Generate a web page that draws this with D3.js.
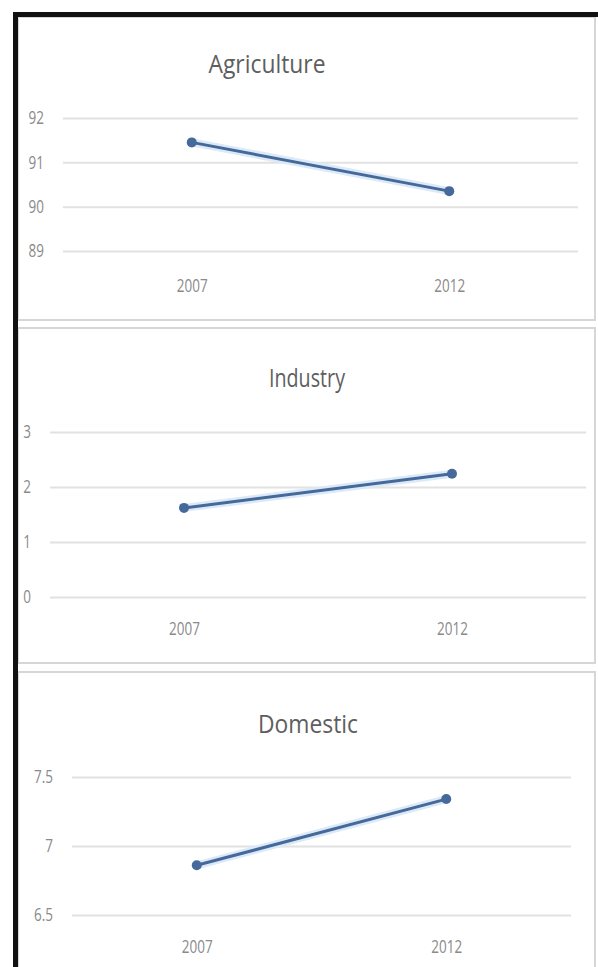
<!DOCTYPE html>
<html>
<head>
<meta charset="utf-8">
<script src="https://cdn.jsdelivr.net/npm/d3@7"></script>
<style>
  html, body { margin: 0; padding: 0; background: #fff; }
  svg { display: block; }
  .grid line { stroke: #e2e2e2; stroke-width: 2; }
  .grid text, .xaxis text { fill: #8a8a8a; font-family: "Open Sans", sans-serif; font-size: 18px; }
  .title { fill: #5e5e5e; font-family: "Open Sans", sans-serif; font-size: 25px; }
</style>
</head>
<body>
<svg id="chart" width="598" height="967"></svg>
<script>
// chart data
const years = ["2007", "2012"];
const titles = ["Agriculture", "Industry", "Domestic"];
const agriculture = [91.45, 90.35];
const industry = [1.62, 2.24];
const domestic = [6.86, 7.34];
const agricultureTicks = [89, 90, 91, 92];
const industryTicks = [0, 1, 2, 3];
const domesticTicks = [6.5, 7, 7.5];

// where each little chart sits on the page
const panels = [
  { values: agriculture, ticks: agricultureTicks, box: [18, 17, 595, 320],
    left: 63, right: 578, top: 118, bottom: 251, titleX: 267, titleY: 73, titleLen: 117, xPad: 28 },
  { values: industry, ticks: industryTicks, box: [18, 328, 595, 663],
    left: 50, right: 586, top: 432, bottom: 597, titleX: 307, titleY: 387, titleLen: 76, xPad: 25 },
  { values: domestic, ticks: domesticTicks, box: [18, 672, 595, 980],
    left: 72, right: 571, top: 777, bottom: 915, titleX: 308, titleY: 733, titleLen: 100, xPad: 25 }
];

const svg = d3.select("#chart");
const lineColor = "#44699a";
const squeeze = 0.75; // the labels in the picture are narrow

panels.forEach((p, i) => {
  // panel frame
  svg.append("rect")
    .attr("x", p.box[0]).attr("y", p.box[1])
    .attr("width", p.box[2] - p.box[0]).attr("height", p.box[3] - p.box[1])
    .attr("fill", "#fff").attr("stroke", "#d6d6d6").attr("stroke-width", 2);

  const x = d3.scalePoint().domain(years).range([p.left, p.right]).padding(0.5);
  const y = d3.scaleLinear().domain(d3.extent(p.ticks)).range([p.bottom, p.top]);

  // gridlines + y labels
  const gy = svg.append("g")
    .attr("class", "grid")
    .attr("transform", `translate(${p.left},0)`)
    .call(d3.axisLeft(y)
      .tickValues(p.ticks)
      .tickFormat(d => String(d))
      .tickSize(-(p.right - p.left))
      .tickPadding(19 / squeeze));
  gy.select(".domain").remove();
  gy.selectAll("text").attr("transform", `scale(${squeeze},1)`);

  // x labels
  const gx = svg.append("g")
    .attr("class", "xaxis")
    .attr("transform", `translate(0,${p.bottom})`)
    .call(d3.axisBottom(x).tickSize(0).tickPadding(p.xPad));
  gx.select(".domain").remove();
  gx.selectAll("text").attr("transform", `scale(${squeeze},1)`);

  // title
  svg.append("text")
    .attr("class", "title")
    .attr("x", p.titleX).attr("y", p.titleY)
    .attr("text-anchor", "middle")
    .attr("textLength", p.titleLen)
    .attr("lengthAdjust", "spacingAndGlyphs")
    .text(titles[i]);

  const line = d3.line().x((d, j) => x(years[j])).y(d => y(d));

  // soft halo then the line itself
  svg.append("path").datum(p.values)
    .attr("d", line).attr("fill", "none")
    .attr("stroke", "#dce9f6").attr("stroke-width", 8).attr("stroke-linecap", "round");
  svg.append("path").datum(p.values)
    .attr("d", line).attr("fill", "none")
    .attr("stroke", lineColor).attr("stroke-width", 3);

  svg.append("g").selectAll("circle")
    .data(p.values)
    .join("circle")
    .attr("cx", (d, j) => x(years[j]))
    .attr("cy", d => y(d))
    .attr("r", 5)
    .attr("fill", lineColor);
});

// thick black border on top and left
svg.append("rect").attr("x", 13).attr("y", 12).attr("width", 585).attr("height", 5).attr("fill", "#111");
svg.append("rect").attr("x", 13).attr("y", 12).attr("width", 5).attr("height", 955).attr("fill", "#111");
</script>
</body>
</html>
